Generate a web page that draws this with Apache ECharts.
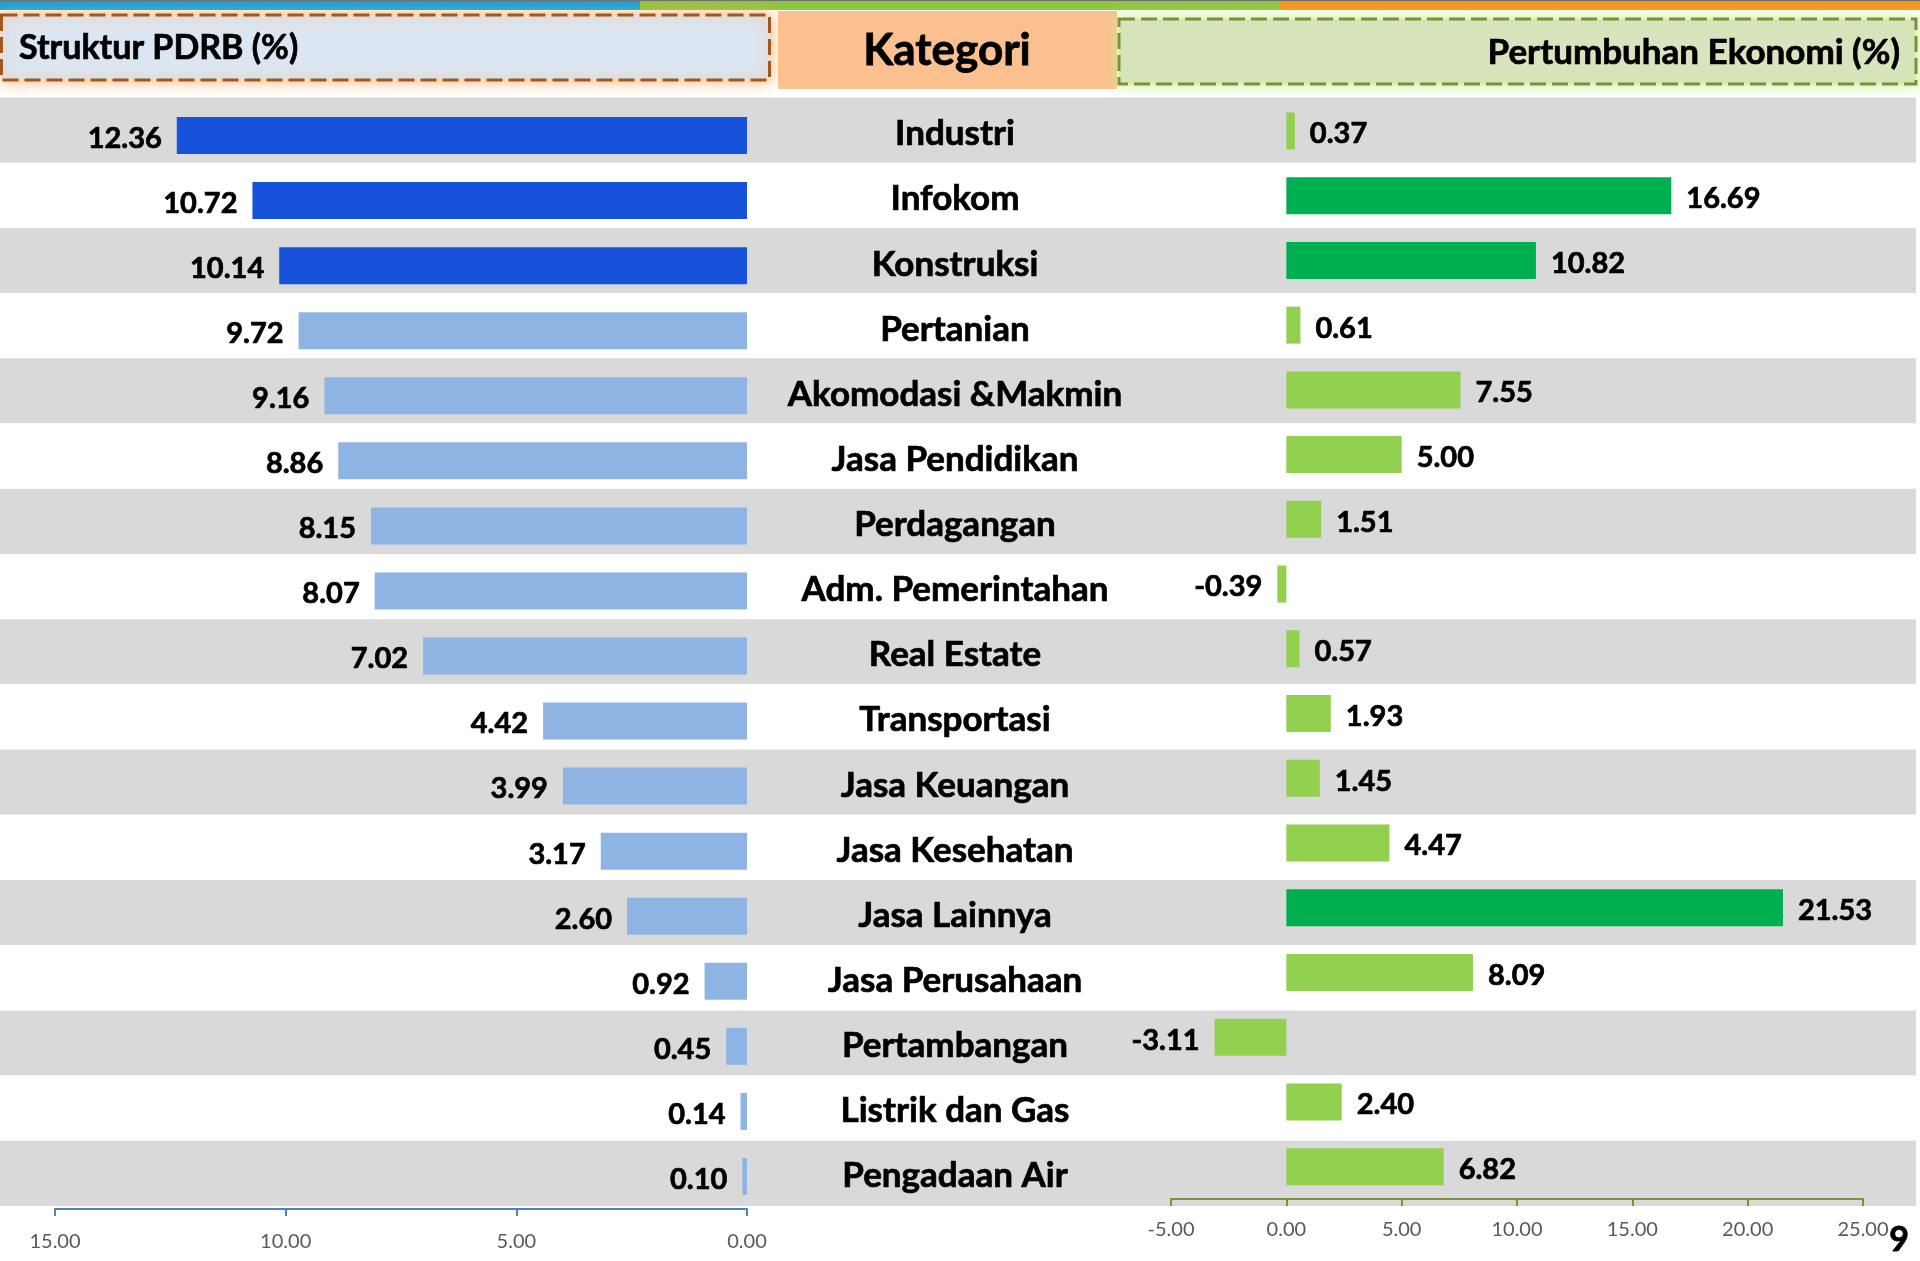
<!DOCTYPE html>
<html>
<head>
<meta charset="utf-8">
<script src="https://cdn.jsdelivr.net/npm/echarts@6/dist/echarts.min.js"></script>
<style>
html,body{margin:0;padding:0;background:#fff;}
#c{width:1920px;height:1261px;}
</style>
</head>
<body>
<div id="c"></div>
<script>
// ---- data ----
const categories = ["Industri","Infokom","Konstruksi","Pertanian","Akomodasi &Makmin","Jasa Pendidikan","Perdagangan","Adm. Pemerintahan","Real Estate","Transportasi","Jasa Keuangan","Jasa Kesehatan","Jasa Lainnya","Jasa Perusahaan","Pertambangan","Listrik dan Gas","Pengadaan Air"];
const strukturPDRB = [12.36,10.72,10.14,9.72,9.16,8.86,8.15,8.07,7.02,4.42,3.99,3.17,2.60,0.92,0.45,0.14,0.10];
const pertumbuhan = [0.37,16.69,10.82,0.61,7.55,5.00,1.51,-0.39,0.57,1.93,1.45,4.47,21.53,8.09,-3.11,2.40,6.82];
const leftTicks = [0,15,5];   // min, max, interval
const rightTicks = [-5,25,5]; // min, max, interval
const headerLeft = "Struktur PDRB (%)";
const headerMid = "Kategori";
const headerRight = "Pertumbuhan Ekonomi (%)";
const pageNo = "9";

// ---- chart ----
const FONT = "Lato";
const chart = echarts.init(document.getElementById('c'), null, {renderer:'canvas'});
const fmt = v => Number(v).toFixed(2);

const leftData = strukturPDRB.map(v => ({value:v, itemStyle:{color: v >= 10 ? '#1652da' : '#8db4e2'}}));
const rightData = pertumbuhan.map(v => ({
  value:v,
  itemStyle:{color: v >= 10 ? '#00b050' : '#92d050'},
  label:{position: v < 0 ? 'left' : 'right'}
}));

const heavy = {textBorderColor:'#000', textBorderWidth:0.7};
const valueLabel = Object.assign({show:true, distance:15, offset:[0,3], fontFamily:FONT, fontWeight:'bold', fontSize:29, color:'#000', formatter:p => fmt(p.value)}, heavy);

const option = {
  animation:false,
  backgroundColor:'#ffffff',
  grid:[
    {left:0, right:4, top:97.5, bottom:55},       // stripes
    {left:55, right:1173, top:103, bottom:52},     // left bars
    {left:1171, right:57, top:98.6, bottom:62},    // right bars
    {left:955, width:2, top:101.5, bottom:52.5}    // category labels
  ],
  xAxis:[
    {gridIndex:0, type:'value', show:false},
    {gridIndex:1, type:'value', inverse:true, min:leftTicks[0], max:leftTicks[1], interval:leftTicks[2], position:'bottom',
     axisLine:{show:true, lineStyle:{color:'#4f81bd', width:2}},
     axisTick:{show:true, length:7, lineStyle:{color:'#4f81bd', width:2}},
     splitLine:{show:false},
     axisLabel:{formatter:fmt, fontFamily:FONT, fontSize:20, color:'#595959', margin:23}},
    {gridIndex:2, type:'value', min:rightTicks[0], max:rightTicks[1], interval:rightTicks[2], position:'bottom',
     axisLine:{show:true, onZero:false, lineStyle:{color:'#77933c', width:2}},
     axisTick:{show:true, length:7, lineStyle:{color:'#77933c', width:2}},
     splitLine:{show:false},
     axisLabel:{formatter:fmt, fontFamily:FONT, fontSize:20, color:'#595959', margin:21}},
    {gridIndex:3, type:'value', show:false}
  ],
  yAxis:[
    {gridIndex:0, type:'category', data:categories, inverse:true,
     axisLine:{show:false}, axisTick:{show:false}, axisLabel:{show:false},
     splitArea:{show:true, areaStyle:{color:['#d9d9d9','#ffffff']}}},
    {gridIndex:1, type:'category', data:categories, inverse:true, show:false},
    {gridIndex:2, type:'category', data:categories, inverse:true, show:false},
    {gridIndex:3, type:'category', data:categories, inverse:true,
     axisLine:{show:false}, axisTick:{show:false},
     axisLabel:Object.assign({show:true, align:'center', margin:0, fontFamily:FONT, fontWeight:'bold', fontSize:35, color:'#000'}, heavy)}
  ],
  series:[
    {type:'bar', xAxisIndex:1, yAxisIndex:1, data:leftData, barWidth:37,
     label:Object.assign({}, valueLabel, {position:'left'})},
    {type:'bar', xAxisIndex:2, yAxisIndex:2, data:rightData, barWidth:37,
     label:Object.assign({}, valueLabel)}
  ],
  graphic:[
    // top stripe
    {type:'rect', z:-1, shape:{x:0, y:0, width:640, height:10}, style:{fill:'#0ba0e2'}},
    {type:'rect', z:-1, shape:{x:640, y:0, width:640, height:10}, style:{fill:'#8dc63f'}},
    {type:'rect', z:-1, shape:{x:1280, y:0, width:640, height:10}, style:{fill:'#f7941d'}},
    {type:'rect', z:-1, shape:{x:0, y:0, width:1920, height:1}, style:{fill:'#6d6d6d'}},
    // left header
    {type:'rect', shape:{x:1.5, y:15, width:768, height:65},
     style:{fill:'#dce6f2', stroke:'#a4561e', lineWidth:3, lineDash:[16,6],
            shadowBlur:14, shadowColor:'rgba(250,175,95,0.9)'}},
    {type:'text', x:19, y:48, style:{text:headerLeft, fontFamily:FONT, fontWeight:'bold', fontSize:34, fill:'#000', verticalAlign:'middle', align:'left', stroke:'#000', lineWidth:0.7}},
    // middle header
    {type:'rect', shape:{x:778, y:11, width:339, height:78}, style:{fill:'#fac090'}},
    {type:'text', x:947, y:51, style:{text:headerMid, fontFamily:FONT, fontWeight:'bold', fontSize:44, fill:'#000', verticalAlign:'middle', align:'center', stroke:'#000', lineWidth:0.8}},
    // right header
    {type:'rect', shape:{x:1119, y:19, width:797, height:65},
     style:{fill:'#d7e4bd', stroke:'#77933c', lineWidth:3, lineDash:[16,6],
            shadowBlur:14, shadowColor:'rgba(205,240,140,0.95)'}},
    {type:'text', x:1900, y:53, style:{text:headerRight, fontFamily:FONT, fontWeight:'bold', fontSize:35, fill:'#000', verticalAlign:'middle', align:'right', stroke:'#000', lineWidth:0.7}},
    // page number
    {type:'text', x:1899, y:1240, style:{text:pageNo, fontFamily:FONT, fontWeight:'bold', fontSize:34, fill:'#000', verticalAlign:'middle', align:'center', stroke:'#000', lineWidth:0.8}}
  ]
};
chart.setOption(option);
</script>
</body>
</html>
